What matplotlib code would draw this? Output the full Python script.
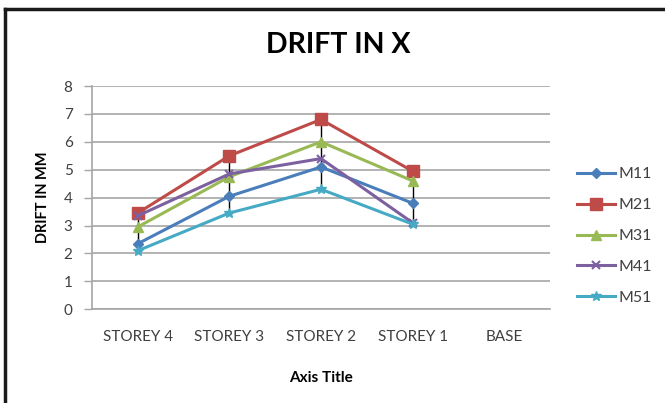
import numpy as np
import matplotlib
matplotlib.use("Agg")
import matplotlib.pyplot as plt
from matplotlib.lines import Line2D

plt.rcParams['font.family'] = ['Lato', 'DejaVu Sans']

categories = ["STOREY 4", "STOREY 3", "STOREY 2", "STOREY 1", "BASE"]
series_names = ["M11", "M21", "M31", "M41", "M51"]
m11 = [2.35, 4.05, 5.10, 3.80, np.nan]
m21 = [3.45, 5.50, 6.80, 4.95, np.nan]
m31 = [2.95, 4.75, 6.00, 4.60, np.nan]
m41 = [3.35, 4.85, 5.40, 3.10, np.nan]
m51 = [2.10, 3.45, 4.30, 3.05, np.nan]
yticks = [0, 1, 2, 3, 4, 5, 6, 7, 8]

series = [m11, m21, m31, m41, m51]
colors = ["#4A7EBB", "#BE4B48", "#98B954", "#7D60A0", "#46AAC5"]
markers = ["D", "s", "^", "x", "*"]
msizes = [5, 8, 7, 6, 7]

fig = plt.figure(figsize=(6.65, 4.03), dpi=100)
ax = fig.add_axes([92 / 665, 1 - 309.3 / 403, (550 - 92) / 665, (309.3 - 86) / 403])

x = np.arange(len(categories))
data = np.array(series, dtype=float)

# high-low lines joining the extremes of each category
lo = np.min(np.where(np.isnan(data), np.inf, data), axis=0)
hi = np.max(np.where(np.isnan(data), -np.inf, data), axis=0)
valid = np.isfinite(lo) & np.isfinite(hi)
ax.vlines(x[valid], lo[valid], hi[valid], color="black", lw=1.0, zorder=2)

handles = []
for vals, name, c, m, ms in zip(series, series_names, colors, markers, msizes):
    mew = 1.5 if m == "x" else 1.0
    ax.plot(x, vals, color=c, lw=2.2, marker=m, markersize=ms,
            markeredgewidth=mew, markeredgecolor=c, markerfacecolor=c, zorder=3)
    handles.append(Line2D([], [], color=c, lw=2.2, marker=m, markersize=ms,
                          markeredgewidth=mew, markeredgecolor=c,
                          markerfacecolor=c, label=name))

ax.set_xlim(-0.5, len(categories) - 0.5)
ax.set_ylim(0, 8)
ax.set_yticks(yticks)
ax.set_yticklabels([str(t) for t in yticks])
ax.set_xticks(x)
ax.set_xticklabels(categories)
ax.yaxis.grid(True, color="#A6A6A6", lw=1.2)
ax.set_axisbelow(True)
for side in ["top", "right"]:
    ax.spines[side].set_visible(False)
for side in ["left", "bottom"]:
    ax.spines[side].set_color("#A6A6A6")
    ax.spines[side].set_linewidth(1.2)
ax.tick_params(axis="y", length=6, width=1.0, color="#A6A6A6", pad=8,
               labelsize=11, labelcolor="#404040")
ax.tick_params(axis="x", length=0, pad=15, labelsize=11, labelcolor="#404040")

ax.set_ylabel("DRIFT IN MM", fontsize=10.5, fontweight="bold", labelpad=10)
ax.set_xlabel("Axis Title", fontsize=11, fontweight="bold", labelpad=19)
fig.text(338 / 665, 1 - 45 / 403, "DRIFT IN X", ha="center",
         va="center", fontsize=20.5, fontweight="bold")

fig.legend(handles=handles, loc="center left",
           bbox_to_anchor=(577 / 665, 1 - 236 / 403), frameon=False,
           fontsize=11.5, labelspacing=1.05, handlelength=2.4,
           handletextpad=0.2, borderpad=0, borderaxespad=0,
           labelcolor="#404040")

# chart border (top and left edges show in the frame)
fig.add_artist(Line2D([5 / 665, 5 / 665], [0, 1 - 8.5 / 403], color="#1a1a1a",
                      lw=2.5, transform=fig.transFigure))
fig.add_artist(Line2D([5 / 665, 1], [1 - 8.5 / 403, 1 - 8.5 / 403],
                      color="#1a1a1a", lw=2.5, transform=fig.transFigure))

fig.savefig("out.png", dpi=100, facecolor="white")
